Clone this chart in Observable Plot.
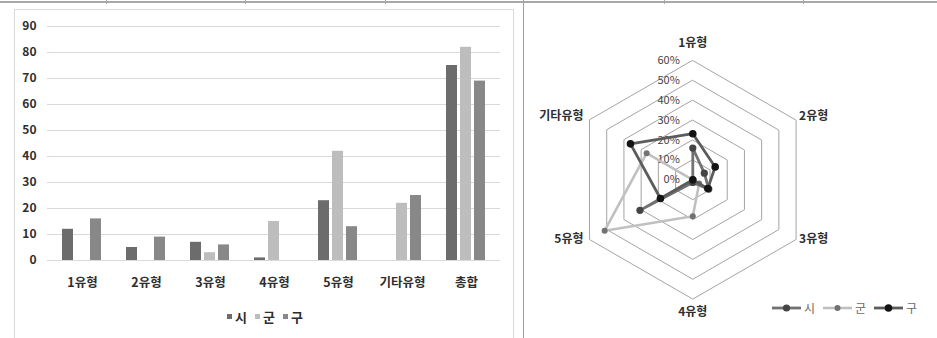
<!DOCTYPE html>
<html lang="ko">
<head>
<meta charset="utf-8">
<script src="https://cdn.jsdelivr.net/npm/d3@7"></script>
<script src="https://cdn.jsdelivr.net/npm/@observablehq/plot@0.6"></script>
<style>
  html, body { margin: 0; padding: 0; background: #fff; }
  #page { position: relative; width: 937px; height: 338px; overflow: hidden;
          font-family: "Noto Sans CJK KR", "Noto Sans", sans-serif; }
  .rule-h { position: absolute; left: 0; top: 1px; width: 937px; height: 1.5px; background: #a8a8a8; }
  .rule-t { position: absolute; top: 0; width: 1.2px; height: 4px; background: #a8a8a8; }
  .divider { position: absolute; left: 522.5px; top: 0; width: 1.5px; height: 338px; background: #a0a0a0; }
  .panel { position: absolute; left: 14px; top: 9px; width: 500px; height: 340px;
           border: 1px solid #d9d9d9; box-sizing: border-box; }
  .layer { position: absolute; }
  .legend { position: absolute; display: flex; align-items: center; white-space: nowrap; }
  .bar-legend { font-weight: bold; font-size: 13px; color: #2e2e2e; }
  .bar-legend .sw { display: inline-block; width: 5px; height: 5px; margin-right: 3px; }
  .bar-legend .item { display: flex; align-items: center; margin-right: 8px; }
  .radar-legend { font-size: 12px; color: #6a6a6a; }
  .radar-legend .item { display: flex; align-items: center; margin-right: 8px; }
  .radar-legend svg { margin-right: 3px; display: block; }
</style>
</head>
<body>
<div id="page">
  <div class="rule-h"></div>
  <div class="rule-t" style="left:106px"></div>
  <div class="rule-t" style="left:245px"></div>
  <div class="rule-t" style="left:385px"></div>
  <div class="rule-t" style="left:664px"></div>
  <div class="rule-t" style="left:803px"></div>
  <div class="divider"></div>
  <div class="panel"></div>
</div>
<script>
// ---- data: counts by type for 시 / 군 / 구 ----
const categories = ["1유형", "2유형", "3유형", "4유형", "5유형", "기타유형", "총합"];
const seriesNames = ["시", "군", "구"];
const siCounts  = [12, 5, 7, 1, 23, 0, 75];
const gunCounts = [0, 0, 3, 15, 42, 22, 82];
const guCounts  = [16, 9, 6, 0, 13, 25, 69];
const yTicks = [0, 10, 20, 30, 40, 50, 60, 70, 80, 90];

// ---- data: share of each type (%) for the radar ----
const radarAxes = ["1유형", "2유형", "3유형", "4유형", "5유형", "기타유형"];
const siShare  = [16.0, 6.7, 9.3, 1.3, 30.7, 0];
const gunShare = [0, 0, 3.7, 18.3, 51.2, 26.8];
const guShare  = [23.2, 13.0, 8.7, 0, 18.8, 36.2];
const ringLevels = [0, 10, 20, 30, 40, 50, 60];

// ---- styling ----
const FONT = "'Noto Sans CJK KR', 'Noto Sans', sans-serif";
const TEXT = "#2e2e2e";
const barColors = ["#6c6c6c", "#bdbdbd", "#888888"];
const radarStyles = [
  {line: "#727272", dot: "#454545", width: 2.8, r: 3.6},
  {line: "#c0c0c0", dot: "#727272", width: 2.6, r: 3.0},
  {line: "#5c5c5c", dot: "#141414", width: 2.8, r: 3.8}
];

const page = document.getElementById("page");
function place(node, left, top) {
  const wrap = document.createElement("div");
  wrap.className = "layer";
  wrap.style.left = left + "px";
  wrap.style.top = top + "px";
  wrap.appendChild(node);
  page.appendChild(wrap);
  return wrap;
}

// ================= grouped bar chart =================
const countsBySeries = [siCounts, gunCounts, guCounts];
const barData = categories.flatMap((c, i) =>
  seriesNames.map((s, j) => ({category: c, series: s, value: countsBySeries[j][i]}))
);

const barFrame = {width: 517, height: 300, marginLeft: 47, marginRight: 17, marginTop: 26, marginBottom: 40};
const barStyle = {fontFamily: FONT, fontSize: "12px", fontWeight: "bold", color: TEXT,
                  background: "transparent", overflow: "visible"};

// value axis and gridlines span the whole plot width
const gridPlot = Plot.plot({
  ...barFrame,
  style: barStyle,
  y: {domain: [0, 90], ticks: yTicks, tickSize: 0, tickPadding: 11, label: null},
  marks: [Plot.ruleY(yTicks, {stroke: "#d9d9d9", strokeWidth: 1})]
});
place(gridPlot, 0, 0);

// bars, one facet per type
const barsPlot = Plot.plot({
  ...barFrame,
  style: {...barStyle, fontSize: "12.5px"},
  fx: {domain: categories, paddingInner: 0.38, paddingOuter: 0.19, axis: "bottom",
       tickSize: 0, tickPadding: 18, label: null},
  x: {domain: seriesNames, paddingInner: 0.2, paddingOuter: 0, axis: null},
  y: {domain: [0, 90], axis: null},
  color: {domain: seriesNames, range: barColors},
  marks: [Plot.barY(barData, {fx: "category", x: "series", y: "value", fill: "series"})]
});
place(barsPlot, 0, 0);

// square-swatch legend under the bars
const barLegend = document.createElement("div");
barLegend.className = "legend bar-legend";
seriesNames.forEach((s, j) => {
  const item = document.createElement("span");
  item.className = "item";
  const sw = document.createElement("span");
  sw.className = "sw";
  sw.style.background = barColors[j];
  item.appendChild(sw);
  item.appendChild(document.createTextNode(s));
  barLegend.appendChild(item);
});
barLegend.style.left = "227px";
barLegend.style.top = "307px";
page.appendChild(barLegend);

// ================= radar chart =================
const angle = i => i * Math.PI / 3;
const px = (v, i) => v * Math.sin(angle(i));
const py = (v, i) => v * Math.cos(angle(i));

const ringData = ringLevels.filter(l => l > 0).flatMap(level =>
  radarAxes.map((a, i) => ({level, x: px(level, i), y: py(level, i)}))
);
const sharesBySeries = [siShare, gunShare, guShare];
const radarSeries = seriesNames.map((s, j) =>
  radarAxes.map((a, i) => ({series: s, axis: a, value: sharesBySeries[j][i],
                            x: px(sharesBySeries[j][i], i), y: py(sharesBySeries[j][i], i)}))
);

const outer = ringLevels[ringLevels.length - 1];
// label placement around the outer ring, by axis
const labelPlacement = [
  {anchor: "middle", dx: 0, dy: -17},
  {anchor: "start", dx: 3, dy: -4},
  {anchor: "start", dx: 3, dy: 0},
  {anchor: "middle", dx: 0, dy: 13},
  {anchor: "end", dx: -6, dy: 0},
  {anchor: "end", dx: -6, dy: -4}
];

const radarPlot = Plot.plot({
  width: 413, height: 338, margin: 0,
  style: {fontFamily: FONT, fontSize: "12px", color: TEXT, background: "transparent", overflow: "visible"},
  x: {domain: [-84.66, 123.1], axis: null},
  y: {domain: [-79.8, 90.2], axis: null},
  marks: [
    Plot.line(ringData, {x: "x", y: "y", z: "level", curve: "linear-closed", stroke: "#a4a4a4", strokeWidth: 1}),
    Plot.text(ringLevels, {x: () => 0, y: d => d, text: d => d + "%", textAnchor: "end", dx: -13,
                           fill: "#444444", fontSize: 11}),
    ...radarAxes.map((a, i) => Plot.text([a], {
      x: () => px(outer, i), y: () => py(outer, i), text: d => d,
      textAnchor: labelPlacement[i].anchor, dx: labelPlacement[i].dx, dy: labelPlacement[i].dy,
      fontWeight: "bold", fontSize: 12, fill: TEXT
    })),
    ...radarSeries.flatMap((pts, j) => [
      Plot.line(pts, {x: "x", y: "y", curve: "linear-closed", stroke: radarStyles[j].line,
                      strokeWidth: radarStyles[j].width, strokeLinejoin: "round"}),
      Plot.dot(pts, {x: "x", y: "y", r: radarStyles[j].r, fill: radarStyles[j].dot, stroke: "none"})
    ])
  ]
});
place(radarPlot, 524, 0);

// line-and-marker legend
const radarLegend = document.createElement("div");
radarLegend.className = "legend radar-legend";
seriesNames.forEach((s, j) => {
  const item = document.createElement("span");
  item.className = "item";
  const st = radarStyles[j];
  item.innerHTML =
    `<svg width="29" height="10"><line x1="0" y1="5" x2="29" y2="5" stroke="${st.line}" stroke-width="${st.width}"/>` +
    `<circle cx="14.5" cy="5" r="${st.r}" fill="${st.dot}"/></svg>`;
  item.appendChild(document.createTextNode(s));
  radarLegend.appendChild(item);
});
radarLegend.style.left = "772px";
radarLegend.style.top = "299px";
page.appendChild(radarLegend);
</script>
</body>
</html>
